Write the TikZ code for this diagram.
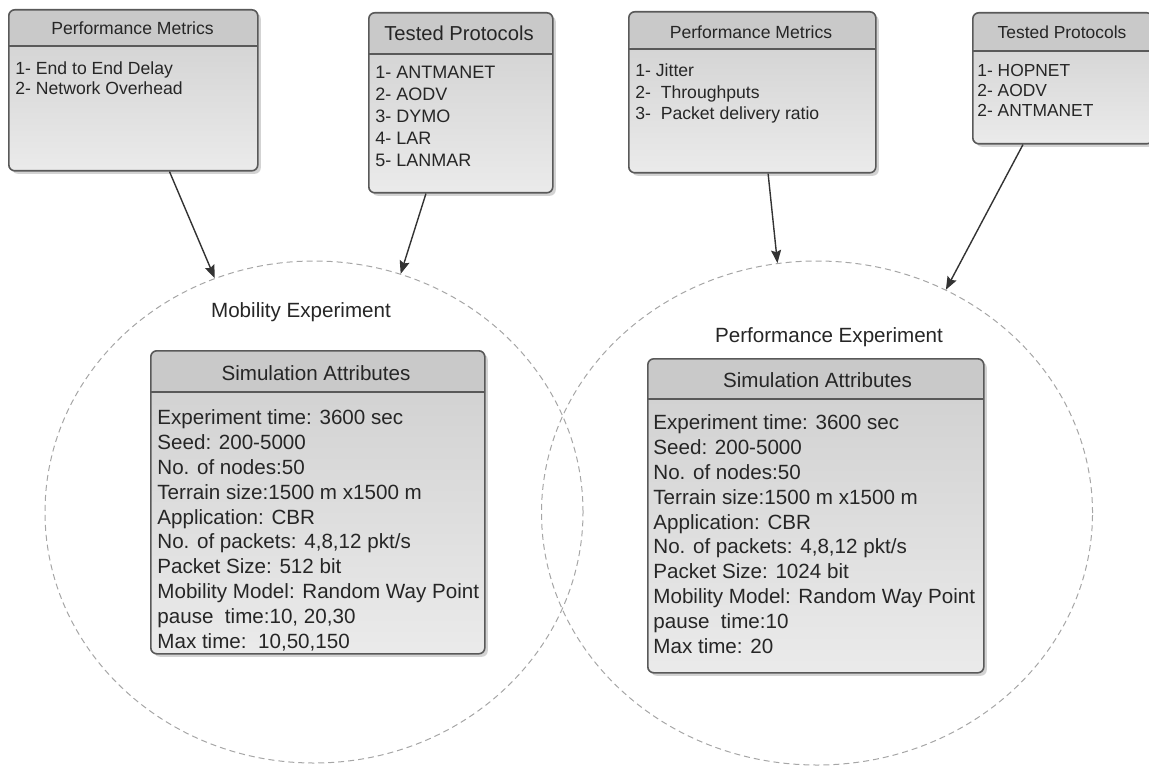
\documentclass[tikz,border=0pt]{standalone}
\usepackage{fontspec}
\setmainfont{Liberation Sans}
\usetikzlibrary{shapes.geometric,shadows,arrows.meta}

\tikzset{
  panel/.style={draw=black!65,line width=0.8pt,rounded corners=3pt,anchor=north west,inner sep=0pt,
    top color=black!19,bottom color=black!8,
    drop shadow={shadow xshift=1.5pt,shadow yshift=-1.5pt,opacity=0.35},
    path picture={
      \fill[black!21] (path picture bounding box.north west) rectangle ([yshift=-#1]path picture bounding box.north east);
      \draw[black!65,line width=1.2pt] ([yshift=-#1]path picture bounding box.north west) -- ([yshift=-#1]path picture bounding box.north east);}},
  ttl/.style={text=black!85,inner sep=0pt},
  lst/.style={text=black!85,inner sep=0pt,anchor=north west,align=left},
  exper/.style={ellipse,draw=black!35,dash pattern=on 3pt off 2pt,line width=0.5pt},
  link/.style={->,draw=black!80,line width=0.7pt}
}

\begin{document}
\begin{tikzpicture}[x=0.5pt,y=-0.5pt,>={Stealth[length=6.5pt,width=5pt,inset=1pt]}]
\useasboundingbox (0,0) rectangle (1149,770);
% experiments
\node[exper,minimum width=269pt,minimum height=251pt] (mobexp) at (314,512) {};
\node[exper,minimum width=275.5pt,minimum height=252pt] (perfexp) at (817,513) {};
\node[ttl,font=\fontsize{10.3}{12}\selectfont] (mobttl) at (301,312) {Mobility Experiment};
\node[ttl,font=\fontsize{10.3}{12}\selectfont] (perfttl) at (829,337) {Performance Experiment};

% left metrics / protocols
\node[panel=18pt,minimum width=124.5pt,minimum height=80.5pt] (pm1) at (8,9) {};
\node[ttl,font=\fontsize{8.8}{10}\selectfont] (pm1ttl) at (132.5,28) {Performance Metrics};
\node[lst,font=\fontsize{8.8}{10}\selectfont] (pm1lst) at (15,61.5) {1- End to End Delay\\2- Network Overhead};

\node[panel=20.5pt,minimum width=92pt,minimum height=90pt] (tp1) at (368,12) {};
\node[ttl,font=\fontsize{10.1}{12}\selectfont] (tp1ttl) at (459,33) {Tested Protocols};
\node[lst,font=\fontsize{9}{11}\selectfont] (tp1lst) at (375,65.5) {1- ANTMANET\\2- AODV\\3- DYMO\\4- LAR\\5- LANMAR};

% right metrics / protocols
\node[panel=18.5pt,minimum width=123.5pt,minimum height=80.5pt] (pm2) at (628,11) {};
\node[ttl,font=\fontsize{8.8}{10}\selectfont] (pm2ttl) at (751,32) {Performance Metrics};
\node[lst,font=\fontsize{8.8}{10.8}\selectfont] (pm2lst) at (635,63.5) {1- Jitter\\2-\ \ Throughputs\\3-\ \ Packet delivery ratio};

\node[panel=19pt,minimum width=90pt,minimum height=65.5pt] (tp2) at (972,12) {};
\node[ttl,font=\fontsize{8.7}{10}\selectfont] (tp2ttl) at (1062,32) {Tested Protocols};
\node[lst,font=\fontsize{8.7}{10}\selectfont] (tp2lst) at (977,63.5) {1- HOPNET\\2- AODV\\2- ANTMANET};

% simulation attributes
\node[panel=20.5pt,minimum width=167pt,minimum height=151.5pt] (sim1) at (150,350) {};
\node[ttl,font=\fontsize{10.3}{12}\selectfont] (sim1ttl) at (316,373) {Simulation Attributes};
\node[lst,font=\fontsize{10.3}{12.4}\selectfont] (sim1lst) at (157,409.5) {Experiment time: 3600 sec\\Seed: 200-5000\\No. of nodes:50\\Terrain size:1500 m x1500 m\\Application: CBR\\No. of packets: 4,8,12 pkt/s\\Packet Size: 512 bit\\Mobility Model: Random Way Point\\pause\ \ time:10, 20,30\\Max time:\ \ 10,50,150};

\node[panel=20pt,minimum width=168pt,minimum height=157pt] (sim2) at (647,358) {};
\node[ttl,font=\fontsize{10.3}{12}\selectfont] (sim2ttl) at (817.5,380) {Simulation Attributes};
\node[lst,font=\fontsize{10.3}{12.4}\selectfont] (sim2lst) at (653,414.5) {Experiment time: 3600 sec\\Seed: 200-5000\\No. of nodes:50\\Terrain size:1500 m x1500 m\\Application: CBR\\No. of packets: 4,8,12 pkt/s\\Packet Size: 1024 bit\\Mobility Model: Random Way Point\\pause\ \ time:10\\Max time: 20};

% links
\draw[link] (pm1.-66) -- (mobexp.113);
\draw[link] (tp1.-111) -- (mobexp.70);
\draw[link] (pm2.-79) -- (perfexp.99);
\draw[link] (tp2.-121) -- (perfexp.60);
\end{tikzpicture}
\end{document}
